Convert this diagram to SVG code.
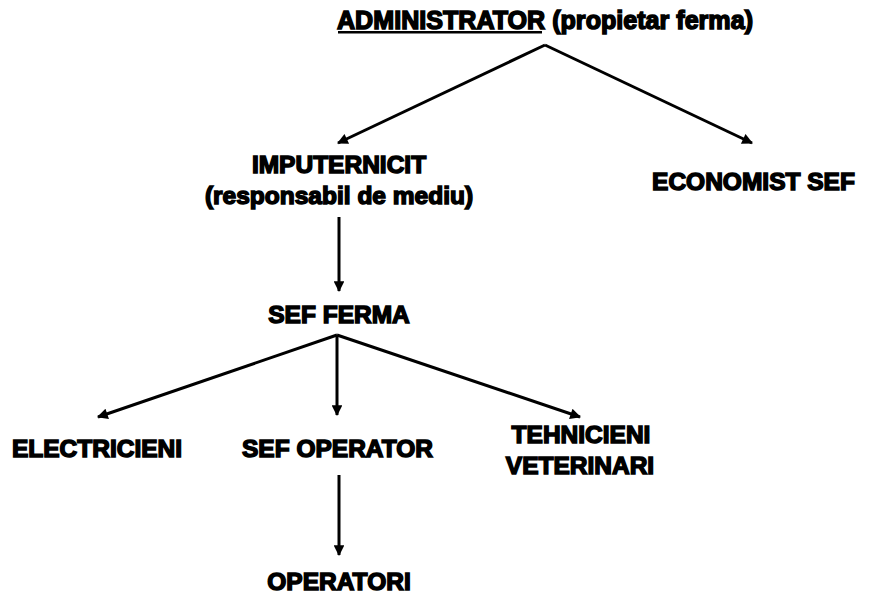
<svg xmlns="http://www.w3.org/2000/svg" width="869" height="594" viewBox="0 0 869 594">
<style>
text{font-family:"Liberation Sans",Arial,sans-serif;font-weight:bold;fill:#000;stroke:#000;stroke-width:1.5;font-size:24.5px;text-anchor:middle}
.t{font-size:25px;text-anchor:start}
.c{stroke:#000;stroke-width:3;fill:none;marker-end:url(#ah)}
</style>
<defs>
<marker id="ah" viewBox="0 0 10 10" refX="9" refY="5" markerWidth="4" markerHeight="3.6" orient="auto" markerUnits="strokeWidth">
<path d="M0,0 L10,5 L0,10 Z" fill="#000"/>
</marker>
</defs>
<rect width="869" height="594" fill="#fff"/>
<g id="connectors">
<line class="c" x1="545" y1="45" x2="338" y2="143"/>
<line class="c" x1="545" y1="45" x2="752" y2="143"/>
<line class="c" x1="339" y1="217" x2="339" y2="291"/>
<line class="c" x1="337" y1="335" x2="98" y2="417"/>
<line class="c" x1="337" y1="335" x2="337" y2="415"/>
<line class="c" x1="337" y1="335" x2="580" y2="417"/>
<line class="c" x1="339" y1="475" x2="339" y2="555"/>
</g>
<g id="administrator">
<text class="t" x="337" y="29" textLength="416" lengthAdjust="spacingAndGlyphs">ADMINISTRATOR (propietar ferma)</text>
<rect x="338" y="31" width="204" height="2.5" fill="#000"/>
</g>
<g id="imputernicit">
<text x="339" y="173">IMPUTERNICIT</text>
<text x="339" y="204">(responsabil de mediu)</text>
</g>
<g id="economist"><text x="753.5" y="190">ECONOMIST SEF</text></g>
<g id="sef-ferma"><text x="339" y="323">SEF FERMA</text></g>
<g id="electricieni"><text x="97" y="457">ELECTRICIENI</text></g>
<g id="sef-operator"><text x="337.5" y="457">SEF OPERATOR</text></g>
<g id="tehnicieni">
<text x="581" y="443">TEHNICIENI</text>
<text x="580" y="474">VETERINARI</text>
</g>
<g id="operatori"><text x="339" y="590">OPERATORI</text></g>
</svg>
